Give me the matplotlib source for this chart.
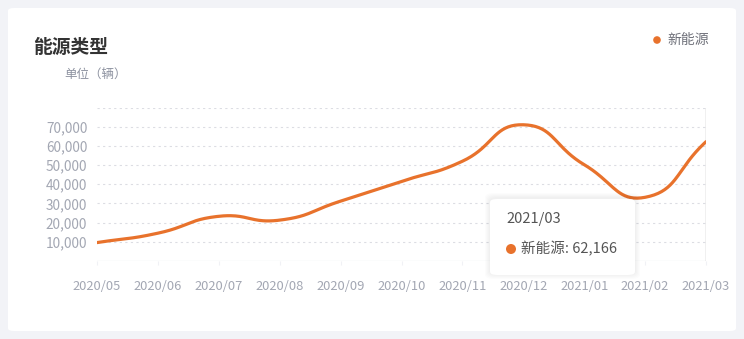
import numpy as np
import matplotlib.pyplot as plt
from matplotlib.patches import FancyBboxPatch, Ellipse

plt.rcParams['font.family'] = ['Noto Sans CJK SC', 'DejaVu Sans']

months = ['2020/05', '2020/06', '2020/07', '2020/08', '2020/09', '2020/10',
          '2020/11', '2020/12', '2021/01', '2021/02', '2021/03']
new_energy = [9600, 14500, 23300, 21300, 31200, 41500,
              52000, 71000, 50200, 33200, 62166]
y_ticks = [10000, 20000, 30000, 40000, 50000, 60000, 70000]
y_max = 80000

orange = '#e8722c'
label_grey = '#a3a7b3'


def smooth_line(xs, ys, sx, sy, smooth=0.5):
    # bezier smoothing in pixel space, control points from neighbour slopes
    px = np.asarray(xs, float) * sx
    py = np.asarray(ys, float) * sy
    n = len(px)
    cps = []
    for i in range(n):
        prev = i - 1 if i > 0 else i
        nxt = i + 1 if i < n - 1 else i
        vx = (px[nxt] - px[prev]) * smooth
        vy = (py[nxt] - py[prev]) * smooth
        d0 = np.hypot(px[i] - px[prev], py[i] - py[prev])
        d1 = np.hypot(px[nxt] - px[i], py[nxt] - py[i])
        tot = d0 + d1 if d0 + d1 > 0 else 1
        cps.append(((px[i] - vx * d0 / tot, py[i] - vy * d0 / tot),
                    (px[i] + vx * d1 / tot, py[i] + vy * d1 / tot)))
    t = np.linspace(0, 1, 40)[:, None]
    out = []
    for i in range(n - 1):
        p0 = np.array([px[i], py[i]])
        p3 = np.array([px[i + 1], py[i + 1]])
        c1 = np.array(cps[i][1])
        c2 = np.array(cps[i + 1][0])
        seg = ((1 - t) ** 3) * p0 + 3 * ((1 - t) ** 2) * t * c1 + 3 * (1 - t) * t ** 2 * c2 + t ** 3 * p3
        out.append(seg if i == 0 else seg[1:])
    pts = np.vstack(out)
    return pts[:, 0] / sx, pts[:, 1] / sy


W, H = 744, 339
fig = plt.figure(figsize=(W / 100, H / 100), dpi=100)
fig.patch.set_facecolor('#f2f3f7')


def dot(x_px, y_px, r_px, z):
    fig.patches.append(Ellipse((x_px / W, 1 - y_px / H), 2 * r_px / W, 2 * r_px / H,
                               transform=fig.transFigure, facecolor=orange,
                               edgecolor='none', zorder=z))


card = FancyBboxPatch((8 / W, 8 / H), 728 / W, 323 / H,
                      boxstyle='round,pad=0,rounding_size=0.008',
                      transform=fig.transFigure, facecolor='white',
                      edgecolor='none', zorder=-5)
fig.patches.append(card)

ax = fig.add_axes([97 / W, (H - 261) / H, (706 - 97) / W, (261 - 107.5) / H])
ax.set_facecolor('none')
ax.set_zorder(1)

x = np.arange(len(months))
sx, sy = 60.9, 19.17 / 10000
cx, cy = smooth_line(x, new_energy, sx, sy)
ax.plot(cx, cy, color=orange, lw=2.3, solid_capstyle='round', zorder=3)

for v in y_ticks + [y_max]:
    ax.axhline(v, color='#dcdde3', lw=0.8, ls=(0, (2, 3)), zorder=1)
ax.axhline(0, color='#eef0f4', lw=1, zorder=1)

# hover pointer on the last month
ax.axvline(x[-1], color='#8c8c8c', lw=0.9, zorder=2)

ax.set_xlim(0, len(months) - 1)
ax.set_ylim(0, y_max)
ax.set_yticks(y_ticks)
ax.set_yticklabels([f'{v:,}' for v in y_ticks])
ax.set_xticks(x)
ax.set_xticklabels(months)
ax.tick_params(axis='y', length=0, pad=7, labelsize=9.8, labelcolor=label_grey)
ax.tick_params(axis='x', length=3, color='#f0f1f5', pad=11, labelsize=9.3,
               labelcolor=label_grey)
for s in ax.spines.values():
    s.set_visible(False)

fig.text(33 / W, 1 - 47 / H, '能源类型', fontsize=13.5, fontweight='bold',
         color='#333333', va='center', ha='left')
fig.text(64 / W, 1 - 74 / H, '单位（辆）', fontsize=9, color='#8d92a0',
         va='center', ha='left')

dot(657, 40, 3.8, 2)
fig.text(667 / W, 1 - 40 / H, '新能源', fontsize=10, color='#6e7079',
         va='center', ha='left')

# tooltip box with a soft shadow
bx, by, bw, bh = 490, 199, 145, 76
for k in range(5):
    pad = 5 - k
    sh = FancyBboxPatch(((bx - pad) / W, (H - by - bh - pad + 1) / H),
                        (bw + 2 * pad) / W, (bh + 2 * pad) / H,
                        boxstyle='round,pad=0,rounding_size=0.012',
                        transform=fig.transFigure, facecolor='#000000',
                        alpha=0.012, edgecolor='none', zorder=5)
    fig.patches.append(sh)
tip = FancyBboxPatch((bx / W, (H - by - bh) / H), bw / W, bh / H,
                     boxstyle='round,pad=0,rounding_size=0.01',
                     transform=fig.transFigure, facecolor='white',
                     edgecolor='none', zorder=6)
fig.patches.append(tip)
fig.text(506 / W, 1 - 219 / H, months[-1], fontsize=10.5, color='#555555',
         va='center', ha='left', zorder=7)
dot(511, 249, 5, 7)
fig.text(521 / W, 1 - 249 / H, f'新能源: {new_energy[-1]:,}', fontsize=10.5,
         color='#555555', va='center', ha='left', zorder=7)

fig.savefig('out.png', dpi=100, facecolor=fig.get_facecolor())
